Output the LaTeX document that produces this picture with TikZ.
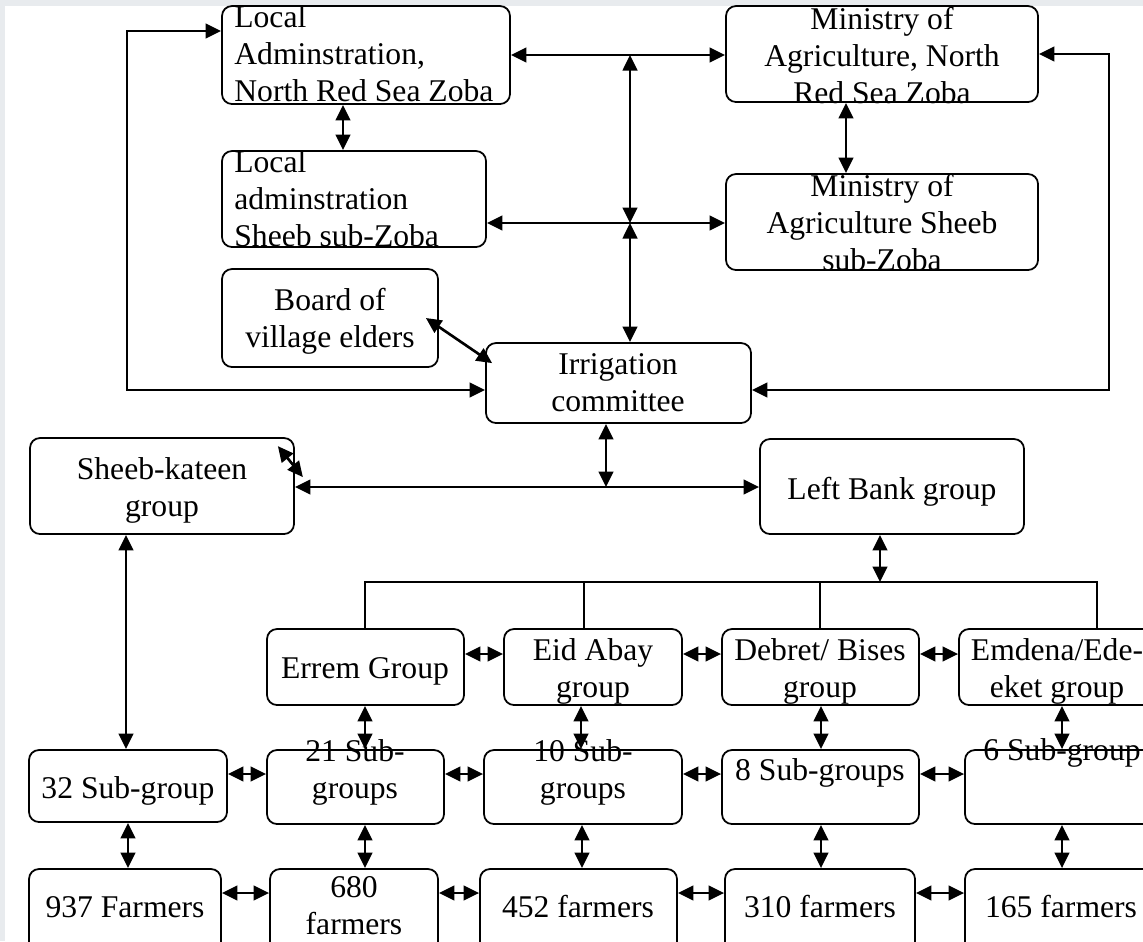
\documentclass[tikz,border=0pt]{standalone}
\usepackage{fontspec}
\setmainfont{Liberation Serif}
\usetikzlibrary{arrows.meta,fit}
\definecolor{pagegrey}{RGB}{232,235,238}
\tikzset{
	box/.style={draw, rounded corners=0.2cm, line width=1pt, inner sep=0pt},
	lbl/.style={inner sep=0pt, align=center, font=\fontsize{18}{21}\selectfont},
	dbl/.style={line width=1.5pt, {Triangle[length=0.31cm,width=0.29cm]}-{Triangle[length=0.31cm,width=0.29cm]}},
	busline/.style={line width=0.7pt}
}
\begin{document}
\begin{tikzpicture}[x=0.02cm, y=-0.02cm]
		\useasboundingbox (0,0) rectangle (1143,941);
		\fill[pagegrey] (0,0) rectangle (1143,941);
		\fill[white] (5,6) rectangle (1143,941);
		\clip (0,0) rectangle (1143,941);
		% administration and ministry
		\node[box, fit={(222,6) (510,104)}] (locadm) {};
		\node[box, fit={(726,6) (1038,102)}] (minagr) {};
		\node[box, fit={(222,151) (486,247)}] (locsub) {};
		\node[box, fit={(726,174) (1038,270)}] (minsub) {};
		\node[box, fit={(222,269) (438,367)}] (elders) {};
		\node[box, fit={(486,343) (751,423)}] (irrig) {};
		\node[lbl, align=left, anchor=base west] (t-locadm) at (234,101) {Local\\Adminstration,\\North Red Sea Zoba};
		\node[lbl, anchor=base] (t-minagr) at (882,103) {Ministry of\\Agriculture, North\\Red Sea Zoba};
		\node[lbl, align=left, anchor=base west] (t-locsub) at (234,246) {Local\\adminstration\\Sheeb sub-Zoba};
		\node[lbl, anchor=base] (t-minsub) at (882,270) {Ministry of\\Agriculture Sheeb\\sub-Zoba};
		\node[lbl, anchor=base] (t-elders) at (330,347) {Board of\\village elders};
		\node[lbl, anchor=base] (t-irrig) at (618,411) {Irrigation\\committee};
		% main groups
		\node[box, fit={(30,438) (294,534)}] (kateen) {};
		\node[box, fit={(760,439) (1024,534)}] (leftbank) {};
		\node[lbl, anchor=base] (t-kateen) at (162,516) {Sheeb-kateen\\group};
		\node[lbl, anchor=base] (t-leftbank) at (892,499) {Left Bank group};
		% left bank groups
		\node[box, fit={(267,629) (464,705)}] (errem) {};
		\node[box, fit={(504,629) (682,705)}] (eidabay) {};
		\node[box, fit={(722,629) (919,705)}] (debret) {};
		\node[box, fit={(959,629) (1160,705)}] (emdena) {};
		\node[lbl, anchor=base] (t-errem) at (365,678) {Errem Group};
		\node[lbl, anchor=base] (t-eidabay) at (593,697) {Eid Abay\\group};
		\node[lbl, anchor=base] (t-debret) at (820,697) {Debret/ Bises\\group};
		\node[lbl, anchor=base] (t-emdena) at (1057,697) {Emdena/Ede-\\eket group};
		% sub-groups
		\node[box, fit={(29,750) (227,822)}] (sub32) {};
		\node[box, fit={(267,750) (444,824)}] (sub21) {};
		\node[box, fit={(484,750) (682,824)}] (sub10) {};
		\node[box, fit={(722,750) (919,824)}] (sub8) {};
		\node[box, fit={(965,750) (1160,824)}] (sub6) {};
		\node[lbl, anchor=base] (t-sub32) at (128,798) {32 Sub-group};
		\node[lbl, anchor=base] (t-sub21) at (355,798) {21 Sub-\\groups};
		\node[lbl, anchor=base] (t-sub10) at (583,798) {10 Sub-\\groups};
		\node[lbl, anchor=base] (t-sub8) at (820,780) {8 Sub-groups};
		\node[lbl, anchor=base] (t-sub6) at (1062,760) {6 Sub-group};
		% farmers
		\node[box, fit={(29,869) (221,960)}] (f937) {};
		\node[box, fit={(270,869) (438,960)}] (f680) {};
		\node[box, fit={(480,869) (677,960)}] (f452) {};
		\node[box, fit={(725,869) (915,960)}] (f310) {};
		\node[box, fit={(965,869) (1160,960)}] (f165) {};
		\node[lbl, anchor=base] (t-f937) at (125,917) {937 Farmers};
		\node[lbl, anchor=base] (t-f680) at (354,934) {680\\farmers};
		\node[lbl, anchor=base] (t-f452) at (578,917) {452 farmers};
		\node[lbl, anchor=base] (t-f310) at (820,917) {310 farmers};
		\node[lbl, anchor=base] (t-f165) at (1061,917) {165 farmers};
		% links at the top
		\coordinate (hub1) at (630,55);
		\coordinate (hub2) at (630,223);
		\coordinate (hub3) at (606,487);
		\draw[dbl] (locadm.east) -- (locadm.east -| minagr.west);
		\draw[dbl] (hub1) -- (hub2);
		\draw[dbl] (hub2) -- (hub2 |- irrig.north);
		\draw[dbl] (locsub.east |- hub2) -- (minsub.west |- hub2);
		\draw[dbl] (locadm.south -| 343,0) -- (locsub.north -| 343,0);
		\draw[dbl] (minagr.south -| 846,0) -- (minsub.north -| 846,0);
		\draw[dbl] (locadm.west |- 0,31) -| (127,390) -- (irrig.west |- 0,390);
		\draw[dbl] (minagr.east) -| (1109,390) -- (irrig.east |- 0,390);
		\draw[dbl] ([xshift=-0.26cm]elders.east) -- ([shift={(0.14cm,-0.42cm)}]irrig.north west);
		% committee to groups
		\draw[dbl] (irrig.south -| hub3) -- (hub3);
		\draw[dbl] (kateen.east |- hub3) -- (leftbank.west |- hub3);
		\draw[dbl] ([shift={(-0.34cm,-0.18cm)}]kateen.north east) -- ([shift={(0.16cm,-0.8cm)}]kateen.north east);
		\draw[dbl] (leftbank.south -| 880,0) -- (880,582);
		\draw[busline] (errem.north -| 365,0) -- (365,582) -- (1097,582) -- (emdena.north -| 1097,0);
		\draw[busline] (eidabay.north -| 584,0) -- (584,582);
		\draw[busline] (debret.north -| 820,0) -- (820,582);
		\draw[dbl] (kateen.south -| 126,0) -- (sub32.north -| 126,0);
		% groups to sub-groups to farmers
		\draw[dbl] (errem.south -| 365,0) -- (sub21.north -| 365,0);
		\draw[dbl] (eidabay.south -| 581,0) -- (sub10.north -| 581,0);
		\draw[dbl] (debret.south -| 821,0) -- (sub8.north -| 821,0);
		\draw[dbl] (emdena.south -| 1062,0) -- (sub6.north -| 1062,0);
		\draw[dbl] (sub32.south -| 128,0) -- (f937.north -| 128,0);
		\draw[dbl] (sub21.south -| 365,0) -- (f680.north -| 365,0);
		\draw[dbl] (sub10.south -| 582,0) -- (f452.north -| 582,0);
		\draw[dbl] (sub8.south -| 821,0) -- (f310.north -| 821,0);
		\draw[dbl] (sub6.south -| 1062,0) -- (f165.north -| 1062,0);
		% side links
		\draw[dbl] (errem.east |- 0,654) -- (eidabay.west |- 0,654);
		\draw[dbl] (eidabay.east |- 0,654) -- (debret.west |- 0,654);
		\draw[dbl] (debret.east |- 0,654) -- (emdena.west |- 0,654);
		\draw[dbl] (sub32.east |- 0,774) -- (sub21.west |- 0,774);
		\draw[dbl] (sub21.east |- 0,774) -- (sub10.west |- 0,774);
		\draw[dbl] (sub10.east |- 0,774) -- (sub8.west |- 0,774);
		\draw[dbl] (sub8.east |- 0,774) -- (sub6.west |- 0,774);
		\draw[dbl] (f937.east |- 0,893) -- (f680.west |- 0,893);
		\draw[dbl] (f680.east |- 0,893) -- (f452.west |- 0,893);
		\draw[dbl] (f452.east |- 0,893) -- (f310.west |- 0,893);
		\draw[dbl] (f310.east |- 0,893) -- (f165.west |- 0,893);
\end{tikzpicture}
\end{document}
